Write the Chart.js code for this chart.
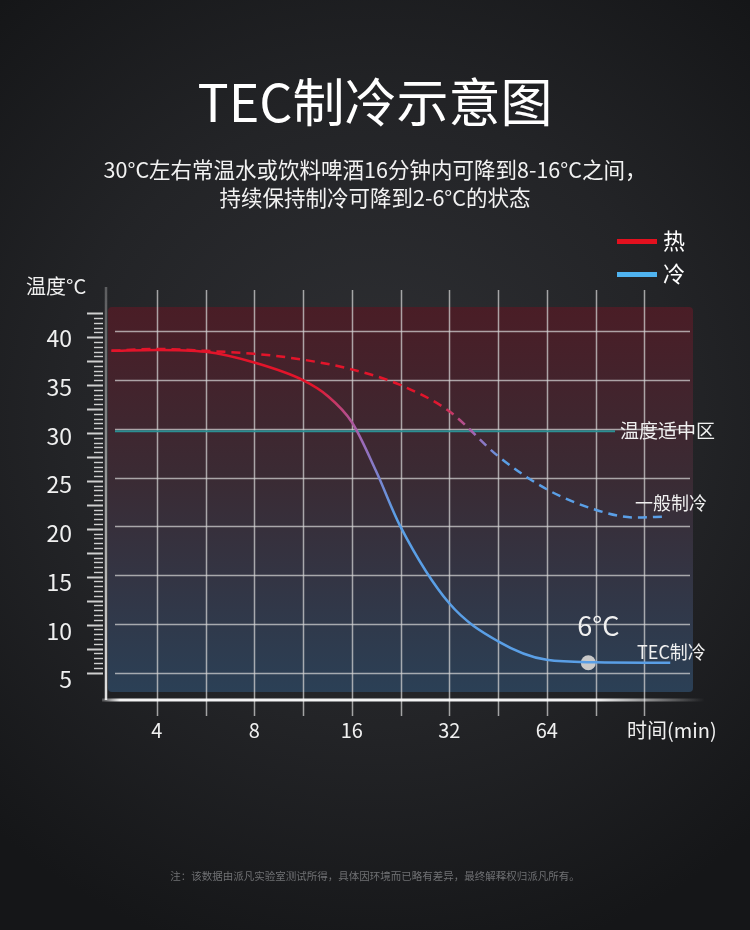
<!DOCTYPE html>
<html lang="zh-CN">
<head>
<meta charset="utf-8">
<title>TEC制冷示意图</title>
<script src="https://cdn.jsdelivr.net/npm/chart.js@4.4.1/dist/chart.umd.min.js"></script>
<style>
  html, body {
    margin: 0;
    padding: 0;
    width: 750px;
    height: 930px;
    overflow: hidden;
  }
  body {
    position: relative;
    font-family: "Noto Sans CJK SC", "Noto Sans", sans-serif;
    color: #fff;
    background: radial-gradient(ellipse 75% 60% at 50% 45%, #2f3034 0%, #232427 55%, #151618 100%);
  }
  #chart {
    position: absolute;
    left: 0;
    top: 0;
  }
  .title {
    position: absolute;
    left: 0;
    width: 750px;
    top: 68px;
    text-align: center;
    font-size: 52px;
    line-height: 64px;
    font-weight: 400;
  }
  .sub {
    position: absolute;
    left: 0;
    width: 750px;
    top: 155px;
    text-align: center;
    font-size: 21.5px;
    line-height: 28px;
    color: #f2f2f2;
  }
  .legend {
    position: absolute;
    left: 617px;
    font-size: 22px;
    line-height: 30px;
    height: 30px;
  }
  .legend i {
    display: inline-block;
    width: 40px;
    height: 5px;
    vertical-align: middle;
    margin-right: 6px;
    position: relative;
    top: -2px;
  }
  .note {
    position: absolute;
    left: 0;
    width: 750px;
    top: 868px;
    text-align: center;
    font-size: 10.5px;
    color: #6f7073;
  }
</style>
</head>
<body>
<canvas id="chart" width="750" height="930"></canvas>
<div class="title">TEC制冷示意图</div>
<div class="sub">30°C左右常温水或饮料啤酒16分钟内可降到8-16°C之间，<br>持续保持制冷可降到2-6°C的状态</div>
<div class="legend" style="top:224px"><i style="background:#e3101e"></i>热</div>
<div class="legend" style="top:257px"><i style="background:#4fb3f0"></i>冷</div>
<div class="note">注：该数据由派凡实验室测试所得，具体因环境而已略有差异，最终解释权归派凡所有。</div>

<script>
// time axis is doubling (log2), values in minutes
const xTickMinutes = [4, 8, 16, 32, 64];
const yTicks = [5, 10, 15, 20, 25, 30, 35, 40];

// TEC cooling curve
const tecTimes = [2.9, 4, 5.66, 8, 11.3, 13.45, 16, 19, 22.6, 32, 45.3, 64, 90.5, 154];
const tecTemps = [38.0, 38.1, 37.9, 36.8, 35.0, 33.4, 30.7, 25.7, 20.0, 12.1, 8.2, 6.3, 6.05, 6.0];

// ordinary cooling curve
const normalTimes = [2.9, 4, 5.66, 8, 11.3, 16, 22.6, 32, 45.3, 64, 90.5, 120, 150];
const normalTemps = [38.0, 38.2, 38.0, 37.7, 37.1, 36.1, 34.5, 31.8, 27.2, 23.8, 21.7, 20.9, 21.0];

// marked point
const markTime = [86];
const markTemp = [6];

// comfortable temperature line
const comfortTemp = 30;

const FONT = '"Noto Sans CJK SC", "Noto Sans", sans-serif';

function toPoints(times, temps) {
    return times.map((t, i) => ({ x: Math.log2(t), y: temps[i] }));
}

// horizontal red -> purple -> blue gradient along the x axis
function heatGradient(stops) {
    return function(context) {
        const chart = context.chart;
        const xs = chart.scales.x;
        if (!chart.chartArea || !xs) return '#e3101e';
        const x0 = xs.getPixelForValue(stops[0]);
        const x1 = xs.getPixelForValue(stops[2]);
        const g = chart.ctx.createLinearGradient(x0, 0, x1, 0);
        g.addColorStop(0, '#e3142a');
        g.addColorStop((stops[1] - stops[0]) / (stops[2] - stops[0]), '#a067b5');
        g.addColorStop(1, '#5a9fe6');
        return g;
    };
}

// background, grid, ruler, axis lines and annotations
const decorPlugin = {
    id: 'decor',
    beforeDraw(chart) {
        const c = chart.ctx;
        const xs = chart.scales.x;
        const ys = chart.scales.y;
        const a = chart.chartArea;

        // shaded plot area
        const bg = c.createLinearGradient(0, a.top, 0, a.bottom);
        bg.addColorStop(0, '#4a1d26');
        bg.addColorStop(0.45, '#3a2b34');
        bg.addColorStop(1, '#2b4056');
        c.save();
        c.fillStyle = bg;
        c.beginPath();
        c.roundRect(a.left, a.top, a.right - a.left, a.bottom - a.top, 4);
        c.fill();

        // horizontal grid
        c.strokeStyle = 'rgba(214, 214, 214, 0.72)';
        c.lineWidth = 1.5;
        yTicks.forEach(v => {
            const y = Math.round(ys.getPixelForValue(v)) + 0.5;
            c.beginPath();
            c.moveTo(a.left + 7, y);
            c.lineTo(a.right - 3, y);
            c.stroke();
        });

        // vertical grid, every half doubling, sticking out above and below
        for (let v = 2; v <= 7.001; v += 0.5) {
            const x = Math.round(xs.getPixelForValue(v)) + 0.5;
            c.beginPath();
            c.moveTo(x, a.top - 17);
            c.lineTo(x, a.bottom + 24);
            c.stroke();
        }

        // comfort line
        const ty = ys.getPixelForValue(comfortTemp) + 2.5;
        c.strokeStyle = '#2c8f93';
        c.lineWidth = 2;
        c.beginPath();
        c.moveTo(a.left + 7, ty);
        c.lineTo(615, ty);
        c.stroke();
        c.restore();
    },
    afterDraw(chart) {
        const c = chart.ctx;
        const xs = chart.scales.x;
        const ys = chart.scales.y;
        const a = chart.chartArea;
        c.save();

        // ruler ticks on the left
        const rulerY = v => ys.getPixelForValue(5 + (v - 5) * 0.983);
        c.strokeStyle = '#cfcfcf';
        for (let i = 0; i <= 75; i++) {
            const v = 5 + i * 0.5;
            const long = i % 5 === 0;
            const y = Math.round(rulerY(v)) + 0.5;
            c.lineWidth = long ? 2 : 1.4;
            c.beginPath();
            c.moveTo(long ? 87 : 94, y);
            c.lineTo(103, y);
            c.stroke();
        }

        // y axis line
        const ax = a.left - 2;
        const axisY = a.bottom + 8;
        let g = c.createLinearGradient(0, a.top - 20, 0, axisY);
        g.addColorStop(0, 'rgba(200,200,200,0.35)');
        g.addColorStop(1, 'rgba(235,235,235,0.95)');
        c.strokeStyle = g;
        c.lineWidth = 2.5;
        c.beginPath();
        c.moveTo(ax, a.top - 20);
        c.lineTo(ax, axisY);
        c.stroke();

        // x axis line
        g = c.createLinearGradient(ax - 4, 0, a.right + 12, 0);
        g.addColorStop(0, 'rgba(255,255,255,0.2)');
        g.addColorStop(0.03, 'rgba(255,255,255,0.95)');
        g.addColorStop(0.82, 'rgba(255,255,255,0.95)');
        g.addColorStop(1, 'rgba(255,255,255,0)');
        c.strokeStyle = g;
        c.lineWidth = 3;
        c.beginPath();
        c.moveTo(ax - 4, axisY);
        c.lineTo(a.right + 12, axisY);
        c.stroke();

        // axis titles
        c.fillStyle = '#f0f0f0';
        c.textBaseline = 'middle';
        c.textAlign = 'left';
        c.font = '20px ' + FONT;
        c.fillText('温度°C', 26, 286);
        c.fillText('时间(min)', 627, 730);

        // annotations
        c.font = '19px ' + FONT;
        c.fillText('温度适中区', 620, 431);
        c.font = '18px ' + FONT;
        c.fillText('一般制冷', 635, 503);
        c.fillText('TEC制冷', 637, 652);

        const mx = xs.getPixelForValue(Math.log2(markTime[0]));
        const my = ys.getPixelForValue(markTemp[0]);
        c.font = '27px ' + FONT;
        c.textAlign = 'center';
        c.fillText(markTemp[0] + '°C', mx + 10, my - 37);
        c.restore();
    }
};

const ctx = document.getElementById('chart').getContext('2d');
const chart = new Chart(ctx, {
    type: 'line',
    data: {
        datasets: [{
            label: '一般制冷',
            data: toPoints(normalTimes, normalTemps),
            borderColor: heatGradient([4.85, 5.26, 5.56]),
            borderWidth: 2.5,
            borderDash: [9, 6],
            pointRadius: 0,
            fill: false,
            cubicInterpolationMode: 'monotone'
        }, {
            label: 'TEC制冷',
            data: toPoints(tecTimes, tecTemps),
            borderColor: heatGradient([3.63, 4.09, 4.45]),
            borderWidth: 2.5,
            pointRadius: 0,
            fill: false,
            cubicInterpolationMode: 'monotone'
        }, {
            label: '6°C',
            data: toPoints(markTime, markTemp),
            showLine: false,
            pointRadius: 7.5,
            pointBackgroundColor: '#c9c9c9',
            pointBorderWidth: 0
        }]
    },
    plugins: [decorPlugin],
    options: {
        responsive: false,
        animation: false,
        devicePixelRatio: 1,
        layout: {
            padding: { left: 0, top: 307, right: 57, bottom: 178 }
        },
        plugins: {
            legend: { display: false },
            tooltip: { enabled: false }
        },
        scales: {
            x: {
                type: 'linear',
                min: 1.5,
                max: 7.5,
                grid: { display: false, drawTicks: false },
                border: { display: false },
                afterFit(scale) { scale.height = 60; },
                afterBuildTicks(scale) {
                    scale.ticks = xTickMinutes.map(m => ({ value: Math.log2(m) }));
                },
                ticks: {
                    autoSkip: false,
                    maxRotation: 0,
                    padding: 26,
                    color: '#f0f0f0',
                    font: { family: FONT, size: 20 },
                    callback: v => String(Math.round(Math.pow(2, v)))
                }
            },
            y: {
                type: 'linear',
                min: 3,
                max: 42.5,
                grid: { display: false, drawTicks: false },
                border: { display: false },
                afterFit(scale) { scale.width = 108; },
                afterBuildTicks(scale) {
                    scale.ticks = yTicks.map(v => ({ value: v }));
                },
                ticks: {
                    padding: 36,
                    labelOffset: 7,
                    color: '#f0f0f0',
                    font: { family: FONT, size: 23 }
                }
            }
        }
    }
});
</script>
</body>
</html>
